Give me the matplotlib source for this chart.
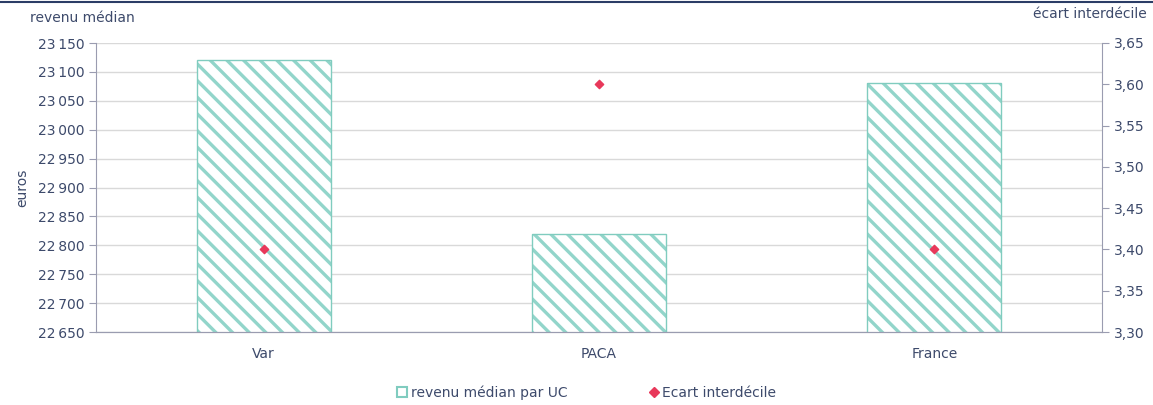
import numpy as np
import matplotlib.pyplot as plt
from matplotlib.lines import Line2D

# --- data --- #
categories = ["Var", "PACA", "France"]
revenu_median = [23120, 22820, 23080]
ecart_interdecile = [3.40, 3.60, 3.40]

left_ticks = [22650, 22700, 22750, 22800, 22850, 22900, 22950, 23000, 23050, 23100, 23150]
right_ticks = [3.30, 3.35, 3.40, 3.45, 3.50, 3.55, 3.60, 3.65]

text_col = "#3d4a6b"
teal = "#92d5ca"
teal_edge = "#80ccbf"
red = "#e8385a"
axis_col = "#9a9cb0"

plt.rcParams['font.family'] = ['DejaVu Sans']
plt.rcParams['hatch.linewidth'] = 2.4

fig = plt.figure(figsize=(11.53, 4.05), dpi=100)
ax = fig.add_axes([96 / 1153, 1 - 332 / 405, 1006 / 1153, 289 / 405])
ax2 = ax.twinx()

x = np.arange(len(categories))
# hatched fill, then a thin outline on top
ax.bar(x, revenu_median, width=0.4, color="white", edgecolor=teal,
       linewidth=0, hatch="\\\\", zorder=2)
ax.bar(x, revenu_median, width=0.4, fill=False, edgecolor=teal_edge,
       linewidth=1.0, zorder=2.1)
ax.set_ylim(22650, 23150)
ax.set_xlim(-0.5, len(categories) - 0.5)
ax.set_yticks(left_ticks)
ax.set_yticklabels([f"{v:,}".replace(",", "\u202f") for v in left_ticks])
ax.set_xticks(x)
ax.set_xticklabels(categories)
ax.grid(axis="y", color="#d9d9d9", linewidth=1.0, zorder=0)
ax.set_axisbelow(True)

ax2.scatter(x, ecart_interdecile, marker="D", s=18, color=red, zorder=3)
ax2.set_ylim(3.30, 3.65)
ax2.set_yticks(right_ticks)
ax2.set_yticklabels([f"{v:.2f}".replace(".", ",") for v in right_ticks])

for a in (ax, ax2):
    a.spines["top"].set_visible(False)
    a.spines["left"].set_color(axis_col)
    a.spines["right"].set_color(axis_col)
    a.spines["bottom"].set_color(axis_col)
    a.tick_params(colors=axis_col, labelcolor=text_col, labelsize=10, length=5)
ax.tick_params(axis="x", length=0, pad=11)
ax2.spines["left"].set_visible(False)
ax.spines["right"].set_visible(False)

ax.set_ylabel("euros", color=text_col, fontsize=10, labelpad=6)
fig.text(30 / 1153, 1 - 18 / 405, "revenu médian", color=text_col, fontsize=10,
         ha="left", va="center")
fig.text(1147 / 1153, 1 - 14 / 405, "écart interdécile", color=text_col, fontsize=10,
         ha="right", va="center")

# dark rule across the top
fig.add_artist(Line2D([0, 1], [1 - 1.5 / 405, 1 - 1.5 / 405], color="#2b3d66",
                      linewidth=1.5, transform=fig.transFigure))

handles = [
    Line2D([0], [0], marker="s", linestyle="none", markersize=7,
           markerfacecolor="white", markeredgecolor=teal_edge, markeredgewidth=1.5),
    Line2D([0], [0], marker="D", linestyle="none", markersize=5,
           markerfacecolor=red, markeredgecolor=red),
]
fig.legend(handles, ["revenu médian par UC", "Ecart interdécile"], loc="center",
           bbox_to_anchor=(0.508, 1 - 393 / 405), ncol=2, frameon=False,
           fontsize=10, labelcolor=text_col, handletextpad=0.1, columnspacing=5.7,
           handlelength=1.0)

fig.savefig("out.png", dpi=100)
